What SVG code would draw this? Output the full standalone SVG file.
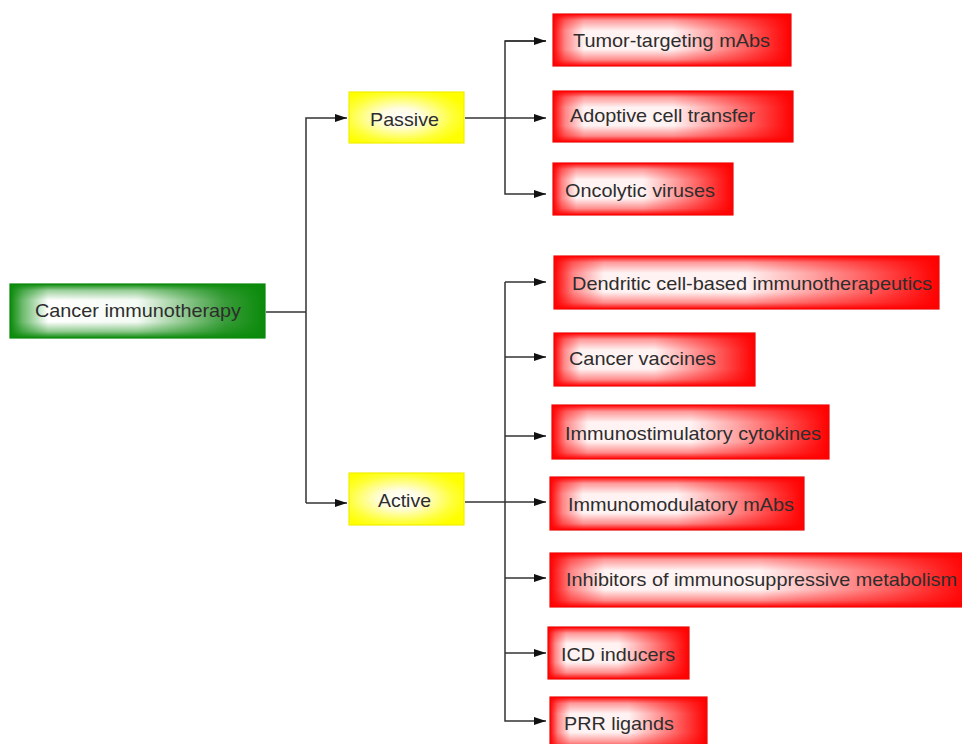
<svg xmlns="http://www.w3.org/2000/svg" width="962" height="744" viewBox="0 0 962 744">
<defs>
<linearGradient id="rh" x1="0" y1="0" x2="1" y2="0">
<stop offset="0" stop-color="#f00"/>
<stop offset="0.05" stop-color="#ff8c8c"/>
<stop offset="0.13" stop-color="#fff"/>
<stop offset="0.5" stop-color="#fff"/>
<stop offset="0.8" stop-color="#ff6a6a"/>
<stop offset="1" stop-color="#f00"/>
</linearGradient>
<linearGradient id="rv" x1="0" y1="0" x2="0" y2="1">
<stop offset="0" stop-color="#f00" stop-opacity="1"/>
<stop offset="0.12" stop-color="#f00" stop-opacity="0.4"/>
<stop offset="0.32" stop-color="#f00" stop-opacity="0.05"/>
<stop offset="0.68" stop-color="#f00" stop-opacity="0.05"/>
<stop offset="0.88" stop-color="#f00" stop-opacity="0.45"/>
<stop offset="1" stop-color="#f00" stop-opacity="1"/>
</linearGradient>
<linearGradient id="gh" x1="0" y1="0" x2="1" y2="0">
<stop offset="0" stop-color="#0a8a0a"/>
<stop offset="0.05" stop-color="#6dbb6d"/>
<stop offset="0.15" stop-color="#fff"/>
<stop offset="0.5" stop-color="#f4faf4"/>
<stop offset="0.84" stop-color="#3a9d3a"/>
<stop offset="1" stop-color="#0a8a0a"/>
</linearGradient>
<linearGradient id="gv" x1="0" y1="0" x2="0" y2="1">
<stop offset="0" stop-color="#0a8a0a" stop-opacity="1"/>
<stop offset="0.12" stop-color="#0a8a0a" stop-opacity="0.4"/>
<stop offset="0.3" stop-color="#0a8a0a" stop-opacity="0"/>
<stop offset="0.7" stop-color="#0a8a0a" stop-opacity="0"/>
<stop offset="0.88" stop-color="#0a8a0a" stop-opacity="0.45"/>
<stop offset="1" stop-color="#0a8a0a" stop-opacity="1"/>
</linearGradient>
<radialGradient id="yr" cx="0.45" cy="0.5" r="0.6">
<stop offset="0" stop-color="#fff"/>
<stop offset="0.3" stop-color="#fffde0"/>
<stop offset="0.75" stop-color="#ffff3a"/>
<stop offset="1" stop-color="#ff0"/>
</radialGradient>
<marker id="ar" markerWidth="13" markerHeight="10" refX="12" refY="5" orient="auto" markerUnits="userSpaceOnUse">
<path d="M0,1 L12,5 L0,9 Z" fill="#111"/>
</marker>
</defs>
<style>
.lbl{font-family:"Liberation Sans",Arial,sans-serif;font-size:18.5px;fill:#2d2d2d}
.rb1{fill:url(#rh);stroke:#e41010;stroke-width:1.2}
.rb2{fill:url(#rv)}
.gb1{fill:url(#gh);stroke:#0b850b;stroke-width:1.2}
.gb2{fill:url(#gv)}
.yb{fill:url(#yr);stroke:#f2ee00;stroke-width:1.2}
.ln{fill:none;stroke:#333;stroke-width:1.5}
</style>
<rect width="962" height="744" fill="#fff"/>
<g id="connectors">
<path class="ln" d="M266,312 H306"/>
<path class="ln" d="M306,503 V118 H347" marker-end="url(#ar)"/>
<path class="ln" d="M306,503 H347" marker-end="url(#ar)"/>
<path class="ln" d="M465,118 H546" marker-end="url(#ar)"/>
<path class="ln" d="M546,41 H505 V194 H546" marker-end="url(#ar)"/>
<path class="ln" d="M505,41 H546" marker-end="url(#ar)"/>
<path class="ln" d="M465,502 H546" marker-end="url(#ar)"/>
<path class="ln" d="M505,282 V721 H546" marker-end="url(#ar)"/>
<path class="ln" d="M505,282 H546" marker-end="url(#ar)"/>
<path class="ln" d="M505,357 H546" marker-end="url(#ar)"/>
<path class="ln" d="M505,436 H546" marker-end="url(#ar)"/>
<path class="ln" d="M505,578 H546" marker-end="url(#ar)"/>
<path class="ln" d="M505,653 H546" marker-end="url(#ar)"/>
</g>
<g id="n-cancer-immunotherapy">
<rect class="gb1" x="10" y="284" width="255" height="54"/><rect class="gb2" x="10" y="284" width="255" height="54"/>
<text class="lbl" x="35" y="317" textLength="206" lengthAdjust="spacingAndGlyphs">Cancer immunotherapy</text>
</g>
<g id="n-passive">
<rect class="yb" x="349" y="92" width="115" height="51"/>
<text class="lbl" x="370" y="126" textLength="69" lengthAdjust="spacingAndGlyphs">Passive</text>
</g>
<g id="n-active">
<rect class="yb" x="349" y="473" width="115" height="52"/>
<text class="lbl" x="378" y="507" textLength="53" lengthAdjust="spacingAndGlyphs">Active</text>
</g>
<g id="n-tumor-targeting">
<rect class="rb1" x="553" y="14" width="238" height="52"/><rect class="rb2" x="553" y="14" width="238" height="52"/>
<text class="lbl" x="573" y="47" textLength="197" lengthAdjust="spacingAndGlyphs">Tumor-targeting mAbs</text>
</g>
<g id="n-adoptive">
<rect class="rb1" x="553" y="91" width="240" height="51"/><rect class="rb2" x="553" y="91" width="240" height="51"/>
<text class="lbl" x="570" y="122" textLength="185" lengthAdjust="spacingAndGlyphs">Adoptive cell transfer</text>
</g>
<g id="n-oncolytic">
<rect class="rb1" x="553" y="163" width="180" height="52"/><rect class="rb2" x="553" y="163" width="180" height="52"/>
<text class="lbl" x="565" y="197" textLength="150" lengthAdjust="spacingAndGlyphs">Oncolytic viruses</text>
</g>
<g id="n-dendritic">
<rect class="rb1" x="554" y="256" width="385" height="53"/><rect class="rb2" x="554" y="256" width="385" height="53"/>
<text class="lbl" x="572" y="290" textLength="360" lengthAdjust="spacingAndGlyphs">Dendritic cell-based immunotherapeutics</text>
</g>
<g id="n-vaccines">
<rect class="rb1" x="554" y="333" width="201" height="53"/><rect class="rb2" x="554" y="333" width="201" height="53"/>
<text class="lbl" x="569" y="365" textLength="147" lengthAdjust="spacingAndGlyphs">Cancer vaccines</text>
</g>
<g id="n-immunostimulatory">
<rect class="rb1" x="552" y="405" width="277" height="54"/><rect class="rb2" x="552" y="405" width="277" height="54"/>
<text class="lbl" x="565" y="440" textLength="256" lengthAdjust="spacingAndGlyphs">Immunostimulatory cytokines</text>
</g>
<g id="n-immunomodulatory">
<rect class="rb1" x="550" y="477" width="254" height="53"/><rect class="rb2" x="550" y="477" width="254" height="53"/>
<text class="lbl" x="568" y="511" textLength="226" lengthAdjust="spacingAndGlyphs">Immunomodulatory mAbs</text>
</g>
<g id="n-inhibitors">
<rect class="rb1" x="550" y="553" width="420" height="54"/><rect class="rb2" x="550" y="553" width="420" height="54"/>
<text class="lbl" x="566" y="586" textLength="391" lengthAdjust="spacingAndGlyphs">Inhibitors of immunosuppressive metabolism</text>
</g>
<g id="n-icd">
<rect class="rb1" x="548" y="627" width="141" height="52"/><rect class="rb2" x="548" y="627" width="141" height="52"/>
<text class="lbl" x="561" y="661" textLength="114" lengthAdjust="spacingAndGlyphs">ICD inducers</text>
</g>
<g id="n-prr">
<rect class="rb1" x="550" y="697" width="157" height="52"/><rect class="rb2" x="550" y="697" width="157" height="52"/>
<text class="lbl" x="564" y="730" textLength="110" lengthAdjust="spacingAndGlyphs">PRR ligands</text>
</g>
</svg>
